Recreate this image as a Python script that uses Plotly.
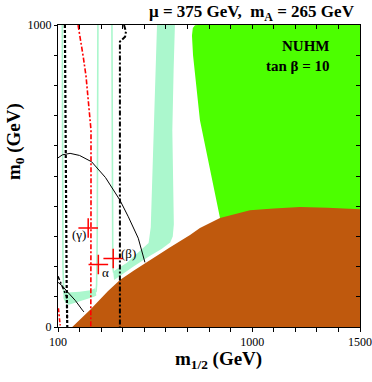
import plotly.graph_objects as go

# --- region boundaries (m_1/2, m_0) in GeV ---
brown_x = [166, 248, 332, 387, 450, 527, 620, 712, 758, 851, 920, 990, 1100, 1222, 1350, 1486, 1500, 1500, 166]
brown_y = [0, 56, 119, 156, 186, 222, 264, 305, 328, 361, 374, 387, 392, 397, 395, 391, 390, 0, 0]

green_x = [851, 814, 758, 726, 721, 725, 735, 750, 1500, 1500, 851]
green_y = [361, 487, 685, 900, 965, 990, 999, 1000, 1000, 340, 340]

band_x = [559, 552, 545, 540, 535, 530, 520, 470, 418, 364, 356, 360, 387, 450, 527, 580, 620, 632, 637, 634, 630, 636, 642]
band_y = [1000, 850, 700, 550, 420, 330, 278, 245, 212, 188, 182, 156, 170, 200, 236, 258, 280, 300, 340, 450, 650, 850, 1000]

ubar_x = [125, 143, 200, 251, 272, 278, 267, 236, 200, 166, 150, 135, 125]
ubar_y = [118, 114, 117, 122, 128, 104, 100, 93, 85, 76, 74, 80, 95]

thin1_x = [120, 121, 123, 126, 128]
thin1_y = [1000, 500, 200, 130, 110]
thin2_x = [285, 284, 282, 279, 276]
thin2_y = [1000, 600, 300, 140, 115]
thin3_x = [350, 351, 352, 354, 358]
thin3_y = [1000, 600, 300, 200, 180]

# --- constraint lines ---
red_x = [193, 205, 217, 230, 240, 248, 253, 253, 252]
red_y = [1000, 950, 895, 830, 762, 700, 652, 400, 0]
red2_x = [102, 106, 110]
red2_y = [62, 35, 5]

dashdot_x = [406, 415, 411, 387, 387]
dashdot_y = [1000, 978, 961, 945, 0]
dashdot2_x = [100, 120, 140, 143]
dashdot2_y = [168, 135, 100, 20]

dotted_x = [132, 134, 137, 140, 143]
dotted_y = [1000, 700, 400, 150, 0]

arc_x = [100, 120, 156, 200, 256, 320, 387, 426, 472, 503]
arc_y = [560, 570, 575, 568, 547, 495, 420, 365, 294, 214]
arc2_x = [100, 120, 143, 180, 213, 220]
arc2_y = [148, 136, 117, 88, 56, 50]

# benchmark points
pt_x = [240, 287, 356]
pt_y = [328, 207, 227]
lab_txt = ["(γ)", "α", "(β)"]
lab_x = [197, 318, 429]
lab_y = [305, 180, 243]

xticks = list(range(100, 1501, 100))
xtext = ["100" if v == 100 else "1000" if v == 1000 else "1500" if v == 1500 else "" for v in xticks]
yticks = list(range(0, 1001, 100))
ytext = ["0" if v == 0 else "1000" if v == 1000 else "" for v in yticks]

LG = "#abf7cd"
SERIF = "Liberation Serif, Times New Roman, serif"

FW, FH = 372, 382
# plot box in pixels: left 58, right 360, top 25, bottom 327
L, T, W, H = 58, 25, 302, 302
def px(xp):
    return (xp - L) / W
def py(yp):
    return (T + H - yp) / H

fig = go.Figure()

def poly(x, y, color):
    fig.add_trace(go.Scatter(x=x, y=y, fill="toself", fillcolor=color, mode="lines",
                             line=dict(width=0, color=color), hoverinfo="skip", showlegend=False))

def line(x, y, color, width, dash="solid"):
    fig.add_trace(go.Scatter(x=x, y=y, mode="lines", line=dict(color=color, width=width, dash=dash),
                             hoverinfo="skip", showlegend=False))

poly(band_x, band_y, LG)
poly(ubar_x, ubar_y, LG)
for tx, ty in [(thin1_x, thin1_y), (thin2_x, thin2_y), (thin3_x, thin3_y)]:
    line(tx, ty, LG, 1.6)
poly(green_x, green_y, "#4cff00")
poly(brown_x, brown_y, "#bf590d")

line(arc_x, arc_y, "black", 1, "solid")
line(arc2_x, arc2_y, "black", 1, "solid")
line(dotted_x, dotted_y, "black", 2.2, "3px,2px")
line(dashdot_x, dashdot_y, "black", 2, "5px,2px,2px,2px")
line(dashdot2_x, dashdot2_y, "black", 1.5, "4px,2px,2px,2px")
line(red_x, red_y, "red", 1.6, "5px,2px,2px,2px")
line(red2_x, red2_y, "red", 1.6, "4px,2px,2px,2px")

fig.add_trace(go.Scatter(x=pt_x, y=pt_y, mode="markers",
                         marker=dict(symbol="cross-thin", size=14, line=dict(color="red", width=1.5)),
                         hoverinfo="skip", showlegend=False))

for t, x, y in zip(lab_txt, lab_x, lab_y):
    fig.add_annotation(x=x, y=y, text=t, showarrow=False, font=dict(family=SERIF, size=13, color="black"))

# dummy trace so the top/right axes with inside ticks are drawn
fig.add_trace(go.Scatter(x=[100], y=[0], xaxis="x2", yaxis="y2", mode="markers",
                         marker=dict(opacity=0), hoverinfo="skip", showlegend=False))

fig.add_annotation(x=px(332), y=py(46), xref="paper", yref="paper", text="<b>NUHM</b>", showarrow=False,
                   xanchor="right", yanchor="middle", font=dict(family=SERIF, size=15, color="black"))
fig.add_annotation(x=px(332), y=py(66), xref="paper", yref="paper", text="<b>tan β = 10</b>", showarrow=False,
                   xanchor="right", yanchor="middle", font=dict(family=SERIF, size=15, color="black"))
fig.add_annotation(x=px(357), y=py(13), xref="paper", yref="paper", xanchor="right", yanchor="middle",
                   text="<b>μ = 375 GeV,  m<sub>A</sub> = 265 GeV</b>", showarrow=False,
                   font=dict(family=SERIF, size=17, color="black"))
fig.add_annotation(x=px(219), y=py(360), xref="paper", yref="paper", xanchor="center", yanchor="middle",
                   text="<b>m<sub>1/2</sub> (GeV)</b>", showarrow=False,
                   font=dict(family=SERIF, size=19, color="black"))
fig.add_annotation(x=px(15), y=py(142), xref="paper", yref="paper", xanchor="center", yanchor="middle",
                   text="<b>m<sub>0</sub> (GeV)</b>", showarrow=False, textangle=-90,
                   font=dict(family=SERIF, size=19, color="black"))

axis_common = dict(showgrid=False, zeroline=False, automargin=False, tickcolor="black",
                   tickfont=dict(family=SERIF, size=12, color="black"))
fig.update_layout(
    template="none",
    width=FW, height=FH,
    margin=dict(l=L, r=FW - L - W, t=T, b=FH - T - H, pad=0),
    plot_bgcolor="white", paper_bgcolor="white",
    font=dict(family=SERIF, size=12, color="black"),
    xaxis=dict(range=[100, 1500], tickvals=xticks, ticktext=xtext, ticks="outside", ticklen=4,
               showline=True, linecolor="black", linewidth=1, mirror=True, **axis_common),
    yaxis=dict(range=[0, 1000], tickvals=yticks, ticktext=ytext, ticks="outside", ticklen=3,
               showline=True, linecolor="black", linewidth=1, mirror=True, **axis_common),
    xaxis2=dict(range=[100, 1500], overlaying="x", side="top", tickvals=xticks, ticks="inside", ticklen=4,
                showticklabels=False, showline=False, anchor="y", **axis_common),
    yaxis2=dict(range=[0, 1000], overlaying="y", side="right", tickvals=yticks, ticks="inside", ticklen=4,
                showticklabels=False, showline=False, anchor="x", **axis_common),
)

# drop the default page margin so the figure sits at the window corner
fig.write_html("out.html", config={"displayModeBar": False},
               post_script="document.body.style.margin='0px';")
